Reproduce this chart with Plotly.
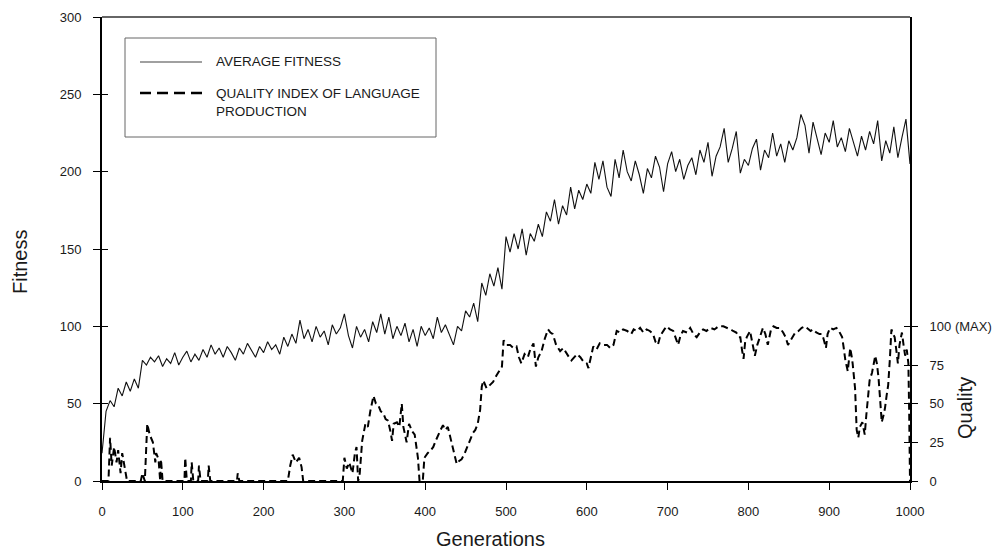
import plotly.graph_objects as go

# ---------------- data ----------------
fitness_gen = list(range(0, 1001, 5))
fitness_val = [
    18, 45, 52, 48, 60, 55, 64, 58, 66, 60, 78, 75, 80, 77, 81, 74, 79, 76, 83, 75,
    80, 84, 77, 82, 78, 85, 80, 88, 82, 86, 80, 87, 83, 78, 86, 82, 89, 84, 80, 87,
    83, 90, 85, 88, 82, 93, 87, 95, 89, 104, 92, 98, 90, 100, 93, 97, 88, 101, 95, 99,
    108, 94, 86, 100, 93, 98, 90, 103, 96, 108, 95, 106, 92, 100, 94, 102, 90, 98, 87, 100,
    94, 99, 92, 106, 96, 101, 94, 88, 100, 97, 110, 106, 115, 103, 128, 120, 134, 126, 138, 124,
    158, 148, 160, 150, 163, 146, 160, 155, 166, 158, 174, 168, 182, 166, 178, 172, 190, 176, 188, 182,
    192, 186, 206, 195, 207, 190, 184, 208, 196, 214, 200, 194, 207, 198, 186, 202, 196, 210, 203, 187,
    205, 213, 200, 208, 195, 204, 209, 198, 214, 206, 219, 197, 210, 216, 228, 206, 215, 226, 199, 208,
    204, 215, 221, 201, 214, 209, 225, 210, 218, 206, 220, 214, 222, 237, 230, 212, 232, 221, 211, 225,
    219, 233, 216, 222, 213, 228, 219, 210, 223, 214, 226, 218, 233, 207, 220, 212, 229, 209, 222, 234, 205,
]

quality_gen = [
    0, 8, 10, 12, 15, 18, 20, 23, 25, 28, 31, 48, 50, 53, 56, 59, 63, 66, 67, 70, 72, 73, 75,
    102, 103, 105, 110, 111, 113, 119, 120, 122, 131, 132, 134, 167, 168, 170,
    230, 233, 236, 240, 244, 247, 249, 298, 300, 303, 306, 310, 313, 315, 317, 319, 322, 326,
    329, 332, 336, 339, 342, 345, 348, 351, 354, 357, 359, 361, 365, 368, 371, 373, 377, 380,
    384, 387, 391, 393, 397, 399, 403, 407, 410, 413, 416, 419, 422, 425, 428, 431, 433, 436,
    439, 442, 445, 449, 452, 456, 459, 462, 465, 468, 470, 472, 476, 480, 484, 488, 492, 495,
    497, 501, 505, 509, 513, 516, 519, 523, 527, 530, 534, 537, 540, 544, 548, 552, 555, 558,
    562, 567, 571, 575, 578, 581, 585, 588, 592, 596, 600, 602, 605, 608, 612, 616, 620, 625,
    629, 633, 637, 641, 645, 650, 655, 658, 662, 666, 670, 674, 678, 682, 685, 688, 691, 693,
    696, 699, 703, 707, 710, 713, 716, 719, 724, 728, 732, 736, 740, 744, 748, 753, 758, 763,
    769, 774, 778, 781, 785, 788, 790, 792, 794, 796, 798, 802, 805, 808, 811, 814, 818, 821,
    824, 828, 831, 835, 839, 843, 846, 849, 853, 858, 862, 866, 870, 874, 877, 880, 884, 888,
    891, 893, 896, 898, 901, 905, 909, 912, 916, 918, 920, 923, 924, 926, 928, 929, 932, 934,
    936, 938, 941, 943, 944, 946, 948, 950, 953, 955, 957, 959, 961, 963, 965, 967, 969, 971,
    973, 975, 977, 979, 981, 983, 985, 987, 990, 992, 994, 996, 998, 999, 1000,
]
quality_val = [
    0, 0, 28, 10, 22, 12, 20, 5, 18, 8, 0, 0, 5, 0, 37, 30, 25, 12, 18, 14, 0, 14, 0,
    0, 15, 0, 0, 12, 0, 0, 10, 0, 0, 10, 0, 0, 5, 0,
    0, 10, 17, 12, 15, 9, 0, 0, 15, 8, 12, 5, 18, 22, 0, 5, 26, 37,
    35, 45, 55, 50, 49, 45, 44, 40, 39, 32, 26, 37, 38, 35, 50, 35, 25, 37,
    32, 30, 15, 0, 0, 15, 18, 20, 22, 26, 30, 33, 36, 33, 35, 28, 25, 18,
    11, 13, 14, 18, 22, 26, 31, 33, 37, 46, 61, 65, 60, 62, 64, 68, 72, 74,
    91, 88, 88, 86, 87, 80, 76, 82, 80, 85, 89, 74, 80, 84, 92, 98, 96, 95,
    88, 84, 86, 82, 80, 78, 80, 82, 80, 77, 76, 73, 80, 87, 85, 89, 88, 88,
    86, 88, 97, 96, 98, 97, 95, 98, 97, 99, 96, 98, 97, 95, 90, 88, 94, 96,
    98, 100, 98, 97, 93, 88, 94, 97, 96, 99, 95, 93, 96, 98, 97, 99, 98, 100,
    100, 99, 98, 97, 96, 93, 93, 85, 79, 90, 93, 97, 90, 81, 88, 93, 99, 95,
    88, 98, 100, 99, 99, 96, 93, 88, 92, 96, 97, 99, 100, 98, 97, 98, 96, 95,
    95, 92, 86, 95, 99, 98, 99, 97, 93, 86, 78, 71, 78, 86, 80, 76, 60, 33,
    28, 35, 38, 32, 30, 43, 55, 65, 70, 75, 81, 76, 67, 53, 38, 42, 47, 55,
    62, 78, 98, 95, 93, 85, 76, 88, 96, 88, 81, 85, 76, 44, 0,
]

fitness_ticks = [0, 50, 100, 150, 200, 250, 300]
quality_ticks = [0, 25, 50, 75, 100]
quality_ticktext = ["0", "25", "50", "75", "100 (MAX)"]
gen_ticks = [0, 100, 200, 300, 400, 500, 600, 700, 800, 900, 1000]

legend_labels = ["AVERAGE FITNESS", "QUALITY INDEX OF LANGUAGE<br>PRODUCTION"]

# ---------------- layout constants ----------------
# the page body has an 8px margin, so the figure is offset by 8px in the window
OFF = 8
PLOT_L, PLOT_R, PLOT_T, PLOT_B = 102, 910, 17, 481   # target plot box in window pixels
W, H = 984, 544
L = PLOT_L - OFF
T = PLOT_T - OFF
R = OFF + W - PLOT_R
B = OFF + H - PLOT_B
PW, PH = PLOT_R - PLOT_L, PLOT_B - PLOT_T
FONT = "Arial, Liberation Sans, Helvetica, sans-serif"
INK = "#1a1a1a"


def px(xp):
    return (xp - PLOT_L) / PW


def py(yp):
    return (PLOT_B - yp) / PH


fig = go.Figure()

fig.add_trace(go.Scatter(
    x=fitness_gen, y=fitness_val, mode="lines",
    line=dict(color="#111111", width=1.1), name=legend_labels[0],
    showlegend=False, hoverinfo="skip",
))
fig.add_trace(go.Scatter(
    x=quality_gen, y=quality_val, mode="lines", yaxis="y2",
    line=dict(color="#000000", width=2, dash="7px,4px"),
    name="QUALITY INDEX OF LANGUAGE PRODUCTION",
    showlegend=False, hoverinfo="skip",
))
# invisible carriers for inner-tick axes
for ax in ("y3", "y4"):
    fig.add_trace(go.Scatter(
        x=fitness_gen, y=fitness_val, mode="lines", yaxis=ax,
        line=dict(width=0), opacity=0, showlegend=False, hoverinfo="skip",
    ))

tickfont = dict(family=FONT, size=13, color=INK)

fig.update_layout(
    width=W, height=H,
    margin=dict(l=L, r=R, t=T, b=B, autoexpand=False),
    paper_bgcolor="white", plot_bgcolor="white",
    font=dict(family=FONT, color=INK),
    xaxis=dict(
        range=[0, 1000], tickvals=gen_ticks, ticks="outside", ticklen=7,
        tickwidth=1, tickcolor="black", showline=True, linewidth=2, linecolor="black",
        showgrid=False, zeroline=False, tickfont=tickfont, ticklabelstandoff=10,
        automargin=False,
    ),
    yaxis=dict(
        range=[0, 300], tickvals=fitness_ticks, ticks="outside", ticklen=7,
        tickwidth=1, tickcolor="black", showline=True, linewidth=2, linecolor="black",
        showgrid=False, zeroline=False, tickfont=tickfont, ticklabelstandoff=9,
        automargin=False,
    ),
    yaxis3=dict(
        range=[0, 300], overlaying="y", side="left", tickvals=fitness_ticks[1:-1],
        ticks="inside", ticklen=6, tickwidth=1, tickcolor="black",
        showticklabels=False, showline=False, showgrid=False, zeroline=False,
        automargin=False,
    ),
    yaxis2=dict(
        range=[0, 300], overlaying="y", side="right", tickvals=quality_ticks,
        ticktext=quality_ticktext, ticks="outside", ticklen=6, tickwidth=1,
        tickcolor="black", showline=True, linewidth=2, linecolor="black",
        showgrid=False, zeroline=False, tickfont=tickfont, ticklabelstandoff=9,
        automargin=False,
    ),
    yaxis4=dict(
        range=[0, 300], overlaying="y", side="right", tickvals=quality_ticks[1:],
        ticks="inside", ticklen=6, tickwidth=1, tickcolor="black",
        showticklabels=False, showline=False, showgrid=False, zeroline=False,
        automargin=False,
    ),
    showlegend=False,
)

shapes = [
    # top frame line
    dict(type="line", xref="paper", yref="paper", x0=0, x1=1, y0=1, y1=1,
         line=dict(color="#333333", width=1.3)),
    # legend box
    dict(type="rect", xref="paper", yref="paper", x0=px(125), x1=px(436), y0=py(137), y1=py(38),
         line=dict(color="#666666", width=1), fillcolor="white", layer="above"),
    dict(type="line", xref="paper", yref="paper", x0=px(140), x1=px(202), y0=py(62), y1=py(62),
         line=dict(color="#808080", width=1.5)),
    dict(type="line", xref="paper", yref="paper", x0=px(140), x1=px(202), y0=py(93), y1=py(93),
         line=dict(color="#000000", width=2.5, dash="11px,6px")),
]
fig.update_layout(shapes=shapes)

annotations = [
    dict(text=legend_labels[0], xref="paper", yref="paper", x=px(214), y=py(62),
         xanchor="left", yanchor="middle", showarrow=False,
         font=dict(family=FONT, size=13.5, color=INK)),
    dict(text=legend_labels[1], xref="paper", yref="paper", x=px(214), y=py(103),
         xanchor="left", yanchor="middle", align="left", showarrow=False,
         font=dict(family=FONT, size=13.5, color=INK)),
    dict(text="Fitness", xref="paper", yref="paper", x=px(20), y=py(262),
         xanchor="center", yanchor="middle", textangle=-90, showarrow=False,
         font=dict(family=FONT, size=20, color=INK)),
    dict(text="Generations", xref="paper", yref="paper", x=px(490), y=py(539),
         xanchor="center", yanchor="middle", showarrow=False,
         font=dict(family=FONT, size=20, color=INK)),
    dict(text="Quality", xref="paper", yref="paper", x=px(965), y=py(408),
         xanchor="center", yanchor="middle", textangle=-90, showarrow=False,
         font=dict(family=FONT, size=20, color=INK)),
]
fig.update_layout(annotations=annotations)

fig.write_html("out.html")
